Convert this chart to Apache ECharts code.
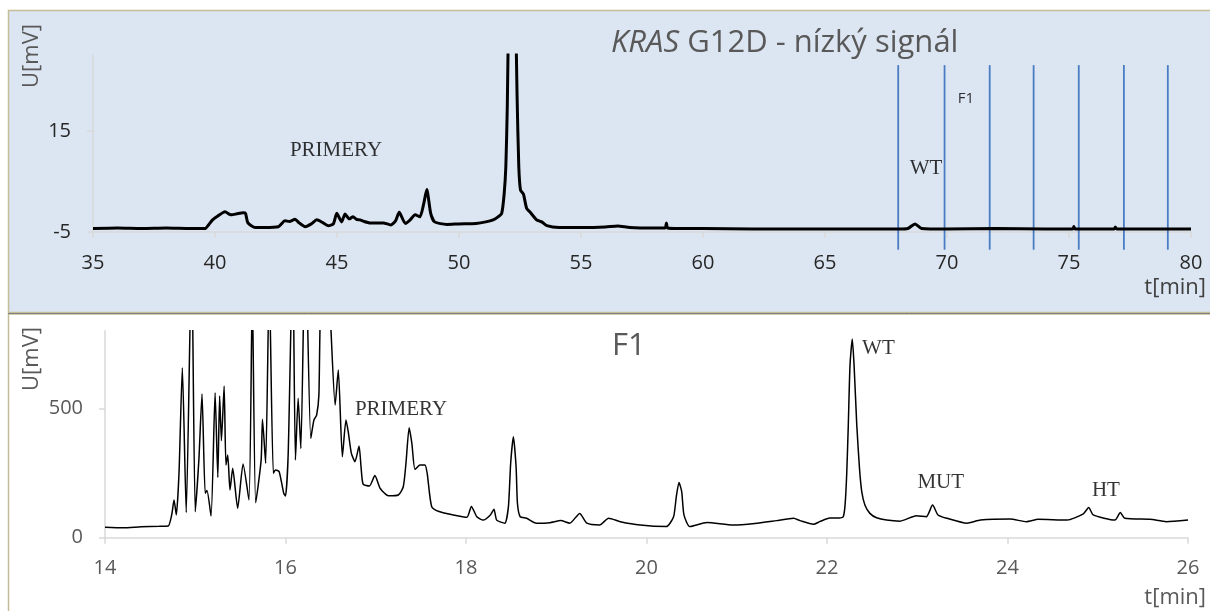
<!DOCTYPE html>
<html>
<head>
<meta charset="utf-8">
<script src="https://cdn.jsdelivr.net/npm/echarts@6/dist/echarts.min.js"></script>
<style>
html,body{margin:0;padding:0;background:#fff;}
#c{width:1210px;height:611px;}
</style>
</head>
<body>
<div id="c"></div>
<script>
// ---- top chromatogram (KRAS G12D - low signal), time [min] / signal [mV]
var topTime = [35,36,37,38,39,39.6,39.75,39.9,40.1,40.41,40.6,40.68,40.9,41.15,41.25,41.35,41.65,42.0,42.6,42.87,43.05,43.28,43.45,43.7,43.95,44.17,44.4,44.64,44.85,44.99,45.19,45.33,45.5,45.66,45.8,45.94,46.1,46.35,46.9,47.2,47.4,47.55,47.8,48.0,48.2,48.4,48.55,48.68,48.84,49.0,49.5,50.0,50.7,51.1,51.4,51.6,51.75,51.85,51.92,51.98,52.05,52.18,52.3,52.38,52.45,52.52,52.64,52.77,52.9,53.18,53.39,53.6,54.1,55,56,56.5,57,58,58.45,58.5,58.55,59,60,62,64,66,68,68.4,68.69,68.96,70,72,74,75.15,75.2,75.25,76.85,76.9,76.95,78,80];
var topSignal = [-4.3,-4.2,-4.3,-4.2,-4.3,-4.3,-3.5,-2.6,-1.9,-1.0,-1.5,-1.6,-1.4,-1.2,-1.3,-3.2,-4.1,-4.1,-3.95,-2.8,-2.9,-2.5,-3.2,-3.95,-3.4,-2.6,-3.1,-3.75,-3.4,-1.3,-3.0,-1.45,-2.4,-2.0,-2.5,-2.6,-2.9,-3.2,-3.2,-3.6,-2.8,-1.1,-3.3,-2.6,-1.6,-2.0,0.5,3.4,-1.3,-3.0,-3.5,-3.4,-3.3,-3.0,-2.6,-2.0,-1.3,2.5,8,20,45,75,45,22,8,3.3,2.5,-0.3,-1.0,-2.6,-3.0,-3.75,-4.1,-4.1,-4.0,-3.8,-4.1,-4.2,-4.2,-3.2,-4.2,-4.3,-4.3,-4.4,-4.4,-4.4,-4.4,-4.3,-3.4,-4.3,-4.4,-4.3,-4.4,-4.4,-3.9,-4.4,-4.4,-4.0,-4.4,-4.4,-4.4];
// fraction boundaries (blue vertical lines) and their extent in mV
var fractionTimes = [68.0,69.9,71.75,73.55,75.4,77.25,79.05];
var fractionTop = 28;
var fractionBottom = -8.5;
// top labels: [text, time, mV]
var topLabels = [["PRIMERY",44.96,11.2],["WT",69.14,7.6]];
var topSmallLabels = [["F1",70.78,21.3]];
var topXTicks = {min:35,max:80,interval:5};
var topYTicks = {min:-5,max:30,interval:20};

// ---- bottom chromatogram (fraction F1)
var f1Time = [14.0,14.2,14.4,14.6,14.7,14.74,14.765,14.79,14.82,14.857,14.9,14.96,15.0,15.04,15.075,15.11,15.13,15.175,15.22,15.25,15.27,15.29,15.32,15.34,15.36,15.385,15.415,15.47,15.53,15.595,15.632,15.67,15.73,15.745,15.78,15.82,15.865,15.89,15.93,15.98,16.0,16.03,16.08,16.11,16.14,16.17,16.22,16.28,16.315,16.345,16.37,16.385,16.44,16.5,16.55,16.585,16.63,16.67,16.695,16.73,16.77,16.815,16.837,16.86,16.93,16.99,17.05,17.14,17.25,17.305,17.335,17.37,17.4,17.435,17.49,17.545,17.57,17.62,17.71,17.86,18.01,18.06,18.12,18.19,18.27,18.31,18.34,18.43,18.47,18.495,18.525,18.555,18.57,18.6,18.67,18.78,18.93,19.05,19.15,19.26,19.34,19.48,19.58,19.71,19.93,20.22,20.3,20.33,20.36,20.39,20.415,20.48,20.67,20.96,21.2,21.44,21.63,21.7,21.85,21.92,22.03,22.14,22.18,22.2,22.218,22.236,22.255,22.28,22.3,22.33,22.36,22.385,22.42,22.475,22.55,22.66,22.81,22.99,23.1,23.17,23.23,23.33,23.55,23.7,24.03,24.21,24.34,24.66,24.84,24.9,24.95,25.19,25.25,25.3,25.58,25.76,26.0];
var f1Signal = [40,38,42,44,45,90,146,88,250,657,97,1100,100,300,555,172,182,84,560,233,548,375,586,281,320,184,268,114,285,146,950,135,300,458,288,1000,249,262,255,172,161,326,1100,300,539,345,1200,384,455,474,552,850,1200,830,513,648,313,455,410,326,294,354,274,207,200,240,190,162,165,197,288,425,365,264,281,281,249,120,100,88,79,121,81,68,88,110,68,56,120,288,390,274,133,81,75,56,58,66,56,94,56,49,75,62,49,43,81,158,213,178,88,43,59,49,55,66,75,66,52,62,76,76,81,126,242,435,667,768,667,435,268,178,126,94,77,68,64,85,81,126,88,75,56,68,72,62,71,68,92,117,88,68,97,75,71,62,68];
var f1Labels = [["PRIMERY",17.28,494],["WT",22.57,733],["MUT",23.26,215],["HT",25.09,184]];
var f1XTicks = {min:14,max:26,interval:2};
var f1YTicks = {min:0,max:800,interval:500};

function zip(a,b){var r=[];for(var i=0;i<a.length;i++)r.push([a[i],b[i]]);return r;}

var sans = '"Open Sans", "Noto Sans", sans-serif';
var serif = '"Liberation Serif", "DejaVu Serif", serif';
var axisGray = '#d9d9d9';

function xAx(idx, t, color){
  return {type:'value', gridIndex:idx, min:t.min, max:t.max, interval:t.interval,
    axisLine:{show:true,onZero:false,lineStyle:{color:axisGray,width:1.5}},
    axisTick:{show:true,length:6,lineStyle:{color:axisGray,width:1.5}},
    splitLine:{show:false},
    axisLabel:{color:color,fontFamily:sans,fontSize:20,margin:21}};
}
function yAx(idx, t, color){
  return {type:'value', gridIndex:idx, min:t.min, max:t.max, interval:t.interval,
    axisLine:{show:true,onZero:false,lineStyle:{color:axisGray,width:1.5}},
    axisTick:{show:true,length:6,lineStyle:{color:axisGray,width:1.5}},
    splitLine:{show:false},
    axisLabel:{color:color,fontFamily:sans,fontSize:20,margin:22,showMaxLabel:false}};
}
function labelSeries(list, xi, yi, font, size){
  return {type:'scatter', xAxisIndex:xi, yAxisIndex:yi, symbolSize:1, silent:true,
    itemStyle:{color:'rgba(0,0,0,0)'},
    data:list.map(function(l){return {name:l[0], value:[l[1],l[2]]};}),
    label:{show:true, position:'inside', formatter:'{b}', color:'#000', fontFamily:font, fontSize:size}};
}

var series = [];
series.push({type:'line', xAxisIndex:0, yAxisIndex:0, data:zip(topTime,topSignal), showSymbol:false,
  smooth:0.2, lineStyle:{color:'#000',width:3}, z:3});
fractionTimes.forEach(function(t){
  series.push({type:'line', xAxisIndex:0, yAxisIndex:0, clip:false, showSymbol:false, silent:true,
    data:[[t,fractionTop],[t,fractionBottom]], lineStyle:{color:'#4a7cc4',width:1.8}, z:2});
});
series.push(labelSeries(topLabels,0,0,serif,21));
series.push(labelSeries(topSmallLabels,0,0,sans,15));
series.push({type:'line', xAxisIndex:1, yAxisIndex:1, data:zip(f1Time,f1Signal), showSymbol:false,
  smooth:0.2, lineStyle:{color:'#000',width:1.5}, z:3});
series.push(labelSeries(f1Labels,1,1,serif,21));

var chart = echarts.init(document.getElementById('c'), null, {renderer:'canvas'});
chart.setOption({
  animation:false,
  backgroundColor:'#fff',
  title:[
    {text:'{i|KRAS}{n| G12D - nízký signál}', left:606, top:23,
      textStyle:{rich:{i:{fontStyle:'italic',fontWeight:'normal',fontSize:31,color:'#595959',fontFamily:sans},
                       n:{fontWeight:'normal',fontSize:31,color:'#595959',fontFamily:sans}}}},
    {text:'F1', left:607, top:326, textStyle:{fontSize:31,color:'#595959',fontFamily:sans,fontWeight:'normal'}}
  ],
  grid:[
    {left:93, right:19, top:55, bottom:379, containLabel:false},
    {left:105, right:22, top:330.7, bottom:73.3, containLabel:false}
  ],
  xAxis:[xAx(0,topXTicks,'#262626'), xAx(1,f1XTicks,'#595959')],
  yAxis:[yAx(0,topYTicks,'#262626'), yAx(1,f1YTicks,'#595959')],
  graphic:[
    {type:'rect', z:-10, shape:{x:8.5,y:10.5,width:1205,height:302}, style:{fill:'#dce6f2',stroke:'#c4bd97',lineWidth:1.5}},
    {type:'rect', z:-10, shape:{x:8.5,y:314,width:1205,height:300}, style:{fill:'none',stroke:'#c4bd97',lineWidth:1.5}},
    {type:'line', z:-9, shape:{x1:8,y1:313.5,x2:1210,y2:313.5}, style:{stroke:'#7f7f7f',lineWidth:1}},
    {type:'text', x:32, y:56, rotation:Math.PI/2, style:{text:'U[mV]', fontFamily:sans, fontSize:22, fill:'#595959', align:'center', verticalAlign:'middle'}},
    {type:'text', x:32, y:359, rotation:Math.PI/2, style:{text:'U[mV]', fontFamily:sans, fontSize:22, fill:'#595959', align:'center', verticalAlign:'middle'}},
    {type:'text', x:1206, y:288, style:{text:'t[min]', fontFamily:sans, fontSize:22, fill:'#404040', align:'right', verticalAlign:'middle'}},
    {type:'text', x:1206, y:598, style:{text:'t[min]', fontFamily:sans, fontSize:22, fill:'#595959', align:'right', verticalAlign:'middle'}}
  ],
  series:series
});
</script>
</body>
</html>
